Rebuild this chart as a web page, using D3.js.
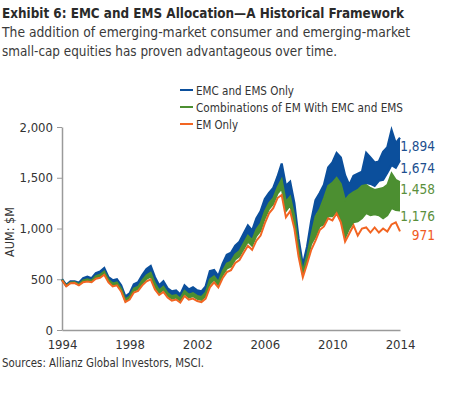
<!DOCTYPE html>
<meta charset="utf-8">
<style>
  body { margin: 0; background: #fff; }
  text { font-family: "Liberation Sans Narrow", "DejaVu Sans Condensed", "Open Sans", sans-serif; fill: #333; }
</style>
<svg width="450" height="394"></svg>
<script src="https://d3js.org/d3.v7.min.js"></script>
<script>

// quarterly points, 1994.00 .. 2014.00
var years = d3.range(81).map(function(i) { return 1994 + i / 4; });

var emOnly = [490,430,460,462,440,470,478,470,505,515,545,470,430,440,380,275,300,370,385,440,
  480,500,400,345,375,320,290,300,270,335,300,310,285,275,310,420,470,420,510,570,
  590,660,690,760,830,790,880,930,1050,1150,1200,1300,1330,1110,1170,1000,720,520,650,790,
  880,985,1020,1100,1080,1150,1060,870,950,1030,930,1000,1010,960,1010,960,1000,970,1040,1060,971];

var combLow = [492,433,464,466,445,478,487,478,516,527,558,480,442,452,392,286,312,386,402,460,
  504,526,424,364,396,338,308,318,286,356,320,332,306,296,334,452,494,442,538,604,
  624,694,726,798,870,828,924,978,1098,1190,1240,1342,1392,1172,1228,1050,756,544,684,848,
  920,1020,1040,1120,1120,1170,1080,905,1000,1060,1070,1100,1150,1130,1140,1130,1100,1130,1200,1180,1176];

var combHigh = [495,438,470,471,452,490,501,490,532,545,577,495,460,470,410,302,330,410,427,490,
  540,565,460,392,427,365,335,345,310,387,350,365,337,327,370,500,530,475,580,655,
  675,745,780,855,930,885,990,1050,1170,1250,1300,1405,1485,1265,1315,1125,810,580,735,935,
  1120,1190,1300,1420,1450,1500,1440,1280,1330,1360,1380,1420,1430,1400,1380,1390,1400,1430,1545,1480,1458];

var emcLow = [495,438,470,471,452,490,501,490,532,545,577,495,460,470,410,302,330,410,427,490,
  540,565,460,392,427,365,335,345,310,387,350,365,337,327,370,500,530,475,580,655,
  675,745,780,855,930,885,990,1050,1170,1250,1300,1405,1485,1265,1315,1125,810,580,735,935,
  1150,1200,1230,1380,1430,1430,1380,1230,1250,1300,1360,1400,1450,1440,1420,1470,1480,1550,1625,1600,1674];

var emcHigh = [500,445,480,480,465,510,525,510,560,575,610,520,490,500,440,330,360,450,470,540,
  600,630,520,440,480,410,380,390,350,440,400,420,390,380,430,580,590,530,650,740,
  760,830,870,950,1030,980,1100,1170,1290,1350,1400,1510,1640,1420,1460,1250,900,640,820,1080,
  1280,1350,1430,1600,1650,1745,1700,1525,1430,1520,1540,1560,1745,1700,1650,1660,1755,1800,1970,1840,1894];

var seriesNames = ["EMC and EMS Only", "Combinations of EM With EMC and EMS", "EM Only"];
var seriesColors = ["#0b4f9c", "#4c8f31", "#f26522"];
var yTicks = [0, 500, 1000, 1500, 2000];
var xTicks = [1994, 1998, 2002, 2006, 2010, 2014];
var endLabels = [
  {text: "1,894", color: "#1d4f8f"},
  {text: "1,674", color: "#1d4f8f"},
  {text: "1,458", color: "#5a8f3c"},
  {text: "1,176", color: "#5a8f3c"},
  {text: "971", color: "#f05a22"}
];

var svg = d3.select("svg");

var x = d3.scaleLinear().domain([1994, 2014]).range([62, 400]),
    y = d3.scaleLinear().domain([0, 2000]).range([330, 127]);

// titles
svg.append("text").attr("x", 2).attr("y", 18)
    .attr("textLength", 402).attr("lengthAdjust", "spacingAndGlyphs")
    .style("font-size", "14px").style("font-weight", "bold").style("fill", "#2a2a2a")
    .text("Exhibit 6: EMC and EMS Allocation\u2014A Historical Framework");
svg.append("text").attr("x", 2).attr("y", 37)
    .attr("textLength", 408).attr("lengthAdjust", "spacingAndGlyphs")
    .style("font-size", "14px").style("fill", "#3a3a3a")
    .text("The addition of emerging-market consumer and emerging-market");
svg.append("text").attr("x", 2).attr("y", 56)
    .attr("textLength", 335).attr("lengthAdjust", "spacingAndGlyphs")
    .style("font-size", "14px").style("fill", "#3a3a3a")
    .text("small-cap equities has proven advantageous over time.");

// legend
var legendWidths = [98, 207, 42];
var legend = svg.append("g").selectAll("g")
  .data(seriesNames)
  .enter().append("g")
    .attr("transform", function(d, i) { return "translate(180," + (90 + i * 17) + ")"; });
legend.append("line").attr("x1", 0).attr("x2", 13)
    .attr("stroke", function(d, i) { return seriesColors[i]; }).attr("stroke-width", 2);
legend.append("text").attr("x", 16).attr("dy", "0.35em")
    .attr("textLength", function(d, i) { return legendWidths[i]; })
    .attr("lengthAdjust", "spacingAndGlyphs")
    .style("font-size", "13px")
    .text(function(d) { return d; });

// axes
var yAxis = svg.append("g")
    .attr("transform", "translate(62,0)")
    .call(d3.axisLeft(y).tickValues(yTicks).tickFormat(d3.format(",")).tickSize(5).tickSizeOuter(0));
yAxis.select(".domain").attr("stroke", "#9a9a9a").attr("stroke-width", 1.5);
yAxis.selectAll(".tick line").attr("stroke", "#9a9a9a");
yAxis.selectAll(".tick text").attr("x", -9).style("font-size", "13px").style("fill", "#333");

var xAxis = svg.append("g")
    .attr("transform", "translate(0,330)")
    .call(d3.axisBottom(x).tickValues(xTicks).tickFormat(d3.format("d")).tickSize(0).tickSizeOuter(0));
xAxis.select(".domain").attr("stroke", "#9a9a9a").attr("stroke-width", 1.5);
xAxis.selectAll(".tick text").attr("y", 10).style("font-size", "13px").style("fill", "#333");

svg.append("text")
    .attr("transform", "translate(14,232) rotate(-90)")
    .attr("text-anchor", "middle")
    .style("font-size", "12.5px")
    .text("AUM: $M");

// bands
var idx = d3.range(years.length);

function band(lo, hi) {
  return d3.area()
      .x(function(i) { return x(years[i]); })
      .y0(function(i) { return y(lo[i]); })
      .y1(function(i) { return y(hi[i]); });
}
function edge(v) {
  return d3.line()
      .x(function(i) { return x(years[i]); })
      .y(function(i) { return y(v[i]); });
}

var plot = svg.append("g");

plot.append("path").datum(idx).attr("d", band(emcLow, emcHigh)).attr("fill", seriesColors[0]);
[emcLow, emcHigh].forEach(function(v) {
  plot.append("path").datum(idx).attr("d", edge(v))
      .attr("fill", "none").attr("stroke", seriesColors[0]).attr("stroke-width", 2.2);
});

plot.append("path").datum(idx).attr("d", band(combLow, combHigh)).attr("fill", seriesColors[1]);
[combLow, combHigh].forEach(function(v) {
  plot.append("path").datum(idx).attr("d", edge(v))
      .attr("fill", "none").attr("stroke", seriesColors[1]).attr("stroke-width", 1.8);
});

plot.append("path").datum(idx).attr("d", edge(emOnly))
    .attr("fill", "none").attr("stroke", seriesColors[2]).attr("stroke-width", 2);

// end labels
svg.append("g").selectAll("text")
  .data(endLabels)
  .enter().append("text")
    .attr("x", 435)
    .attr("y", function(d, i) { return [151, 173, 194, 221, 240][i]; })
    .attr("text-anchor", "end")
    .style("font-size", "13.5px")
    .style("fill", function(d) { return d.color; })
    .text(function(d) { return d.text; });

svg.append("text").attr("x", 2).attr("y", 367)
    .attr("textLength", 202).attr("lengthAdjust", "spacingAndGlyphs")
    .style("font-size", "13px")
    .text("Sources: Allianz Global Investors, MSCI.");

</script>
